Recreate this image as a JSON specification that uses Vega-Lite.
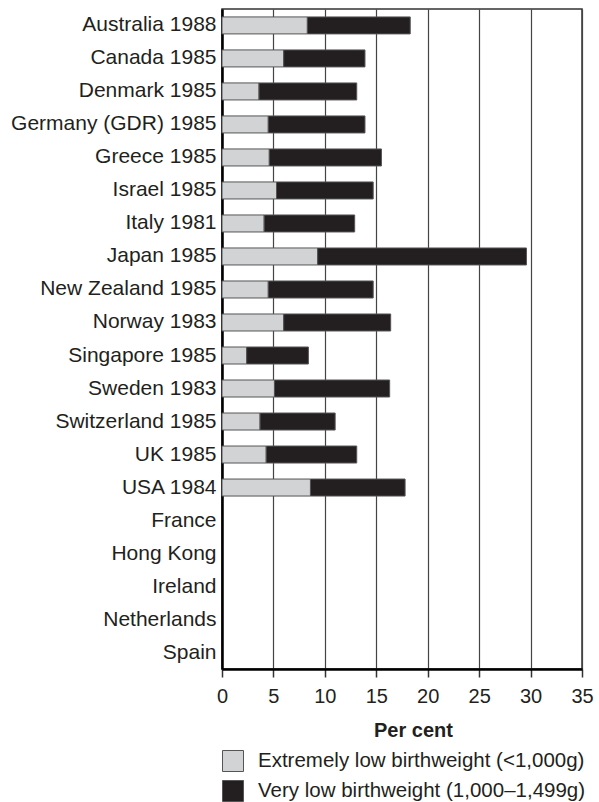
{
  "$schema": "https://vega.github.io/schema/vega-lite/v6.json",
  "width": 360,
  "height": 660,
  "autosize": {"type": "none"},
  "padding": {"left": 222, "top": 9, "right": 17, "bottom": 133},
  "background": "white",
  "config": {
    "font": "Liberation Sans",
    "view": {"stroke": "#333333", "strokeWidth": 1.5}
  },
  "data": {
    "values": [
      {"country": "Australia 1988", "type": "Extremely low birthweight (<1,000g)", "value": 8.3, "ord": 1},
      {"country": "Australia 1988", "type": "Very low birthweight (1,000–1,499g)", "value": 10.0, "ord": 2},
      {"country": "Canada 1985", "type": "Extremely low birthweight (<1,000g)", "value": 6.0, "ord": 1},
      {"country": "Canada 1985", "type": "Very low birthweight (1,000–1,499g)", "value": 7.9, "ord": 2},
      {"country": "Denmark 1985", "type": "Extremely low birthweight (<1,000g)", "value": 3.6, "ord": 1},
      {"country": "Denmark 1985", "type": "Very low birthweight (1,000–1,499g)", "value": 9.5, "ord": 2},
      {"country": "Germany (GDR) 1985", "type": "Extremely low birthweight (<1,000g)", "value": 4.5, "ord": 1},
      {"country": "Germany (GDR) 1985", "type": "Very low birthweight (1,000–1,499g)", "value": 9.4, "ord": 2},
      {"country": "Greece 1985", "type": "Extremely low birthweight (<1,000g)", "value": 4.6, "ord": 1},
      {"country": "Greece 1985", "type": "Very low birthweight (1,000–1,499g)", "value": 10.9, "ord": 2},
      {"country": "Israel 1985", "type": "Extremely low birthweight (<1,000g)", "value": 5.3, "ord": 1},
      {"country": "Israel 1985", "type": "Very low birthweight (1,000–1,499g)", "value": 9.4, "ord": 2},
      {"country": "Italy 1981", "type": "Extremely low birthweight (<1,000g)", "value": 4.1, "ord": 1},
      {"country": "Italy 1981", "type": "Very low birthweight (1,000–1,499g)", "value": 8.8, "ord": 2},
      {"country": "Japan 1985", "type": "Extremely low birthweight (<1,000g)", "value": 9.3, "ord": 1},
      {"country": "Japan 1985", "type": "Very low birthweight (1,000–1,499g)", "value": 20.3, "ord": 2},
      {"country": "New Zealand 1985", "type": "Extremely low birthweight (<1,000g)", "value": 4.5, "ord": 1},
      {"country": "New Zealand 1985", "type": "Very low birthweight (1,000–1,499g)", "value": 10.2, "ord": 2},
      {"country": "Norway 1983", "type": "Extremely low birthweight (<1,000g)", "value": 6.0, "ord": 1},
      {"country": "Norway 1983", "type": "Very low birthweight (1,000–1,499g)", "value": 10.4, "ord": 2},
      {"country": "Singapore 1985", "type": "Extremely low birthweight (<1,000g)", "value": 2.4, "ord": 1},
      {"country": "Singapore 1985", "type": "Very low birthweight (1,000–1,499g)", "value": 6.0, "ord": 2},
      {"country": "Sweden 1983", "type": "Extremely low birthweight (<1,000g)", "value": 5.1, "ord": 1},
      {"country": "Sweden 1983", "type": "Very low birthweight (1,000–1,499g)", "value": 11.2, "ord": 2},
      {"country": "Switzerland 1985", "type": "Extremely low birthweight (<1,000g)", "value": 3.7, "ord": 1},
      {"country": "Switzerland 1985", "type": "Very low birthweight (1,000–1,499g)", "value": 7.3, "ord": 2},
      {"country": "UK 1985", "type": "Extremely low birthweight (<1,000g)", "value": 4.3, "ord": 1},
      {"country": "UK 1985", "type": "Very low birthweight (1,000–1,499g)", "value": 8.8, "ord": 2},
      {"country": "USA 1984", "type": "Extremely low birthweight (<1,000g)", "value": 8.6, "ord": 1},
      {"country": "USA 1984", "type": "Very low birthweight (1,000–1,499g)", "value": 9.2, "ord": 2}
    ]
  },
  "mark": {"type": "bar", "stroke": "#555555", "strokeWidth": 1},
  "encoding": {
    "y": {
      "field": "country",
      "type": "nominal",
      "scale": {
        "domain": ["Australia 1988", "Canada 1985", "Denmark 1985", "Germany (GDR) 1985", "Greece 1985", "Israel 1985", "Italy 1981", "Japan 1985", "New Zealand 1985", "Norway 1983", "Singapore 1985", "Sweden 1983", "Switzerland 1985", "UK 1985", "USA 1984", "France", "Hong Kong", "Ireland", "Netherlands", "Spain"],
        "paddingInner": 0.485,
        "paddingOuter": 0.24
      },
      "axis": {
        "title": null,
        "ticks": false,
        "labelFontSize": 21,
        "labelColor": "#231f20",
        "labelPadding": 6,
        "domainColor": "#000000",
        "domainWidth": 2.5,
        "labelLimit": 300
      }
    },
    "x": {
      "field": "value",
      "type": "quantitative",
      "stack": "zero",
      "scale": {"domain": [0, 35], "nice": false},
      "axis": {
        "title": "Per cent",
        "titleFontSize": 20,
        "titleFontWeight": "bold",
        "titleColor": "#231f20",
        "titlePadding": 14,
        "titleX": 191,
        "values": [0, 5, 10, 15, 20, 25, 30, 35],
        "labelFontSize": 20,
        "labelColor": "#231f20",
        "labelPadding": 9,
        "labelFlush": false,
        "tickSize": 8,
        "tickColor": "#333333",
        "tickWidth": 1.5,
        "domainColor": "#000000",
        "domainWidth": 2.5,
        "grid": true,
        "gridColor": "#444444",
        "gridWidth": 1.2
      }
    },
    "color": {
      "field": "type",
      "type": "nominal",
      "scale": {
        "domain": ["Extremely low birthweight (<1,000g)", "Very low birthweight (1,000–1,499g)"],
        "range": ["#d1d3d4", "#231f20"]
      },
      "legend": {
        "title": null,
        "orient": "none",
        "legendX": 0,
        "legendY": 741,
        "direction": "vertical",
        "symbolType": "square",
        "symbolSize": 441,
        "symbolStrokeColor": "#555555",
        "symbolStrokeWidth": 1,
        "labelFontSize": 20.5,
        "labelColor": "#231f20",
        "labelOffset": 14,
        "labelLimit": 400,
        "rowPadding": 4,
        "padding": 0
      }
    },
    "order": {"field": "ord", "type": "quantitative"}
  }
}
